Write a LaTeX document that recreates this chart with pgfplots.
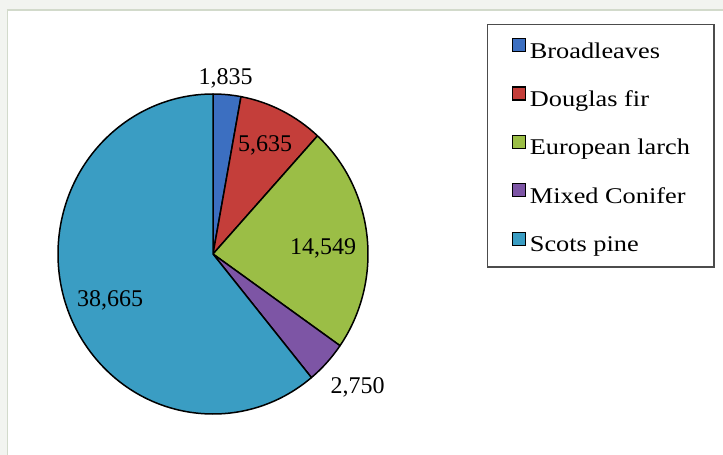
\documentclass[border=0pt]{standalone}
\usepackage{pgfplots}
\pgfplotsset{compat=1.18}
\usepackage{pgfplotstable}
\usepackage{fontspec}
\setmainfont{Liberation Serif}
\newfontfamily\legfont[FakeStretch=1.17]{Liberation Serif}
\definecolor{cBroad}{HTML}{3C6FC1}
\definecolor{cDoug}{HTML}{C43E3A}
\definecolor{cLarch}{HTML}{9BBE46}
\definecolor{cMixed}{HTML}{7D55A5}
\definecolor{cScots}{HTML}{3A9DC3}
\definecolor{bgout}{HTML}{F2F4F0}
\definecolor{bgline}{HTML}{D2DACB}
\pgfplotstableread[col sep=comma]{
species,value
Broadleaves,1835
Douglas fir,5635
European larch,14549
Mixed Conifer,2750
Scots pine,38665
}\piedata
\newcommand\pieslice[3]{%
  \filldraw[fill=#1, draw=black, line width=1.5pt, line join=round]
    (axis cs:213,254) -- ++(#2:155pt and 160pt)
    arc[start angle=#2, end angle=#3, x radius=155pt, y radius=160pt] -- cycle;}
\begin{document}
\begin{tikzpicture}
\pgfplotstablegetelem{0}{value}\of\piedata \edef\vA{\pgfplotsretval}
\pgfplotstablegetelem{1}{value}\of\piedata \edef\vB{\pgfplotsretval}
\pgfplotstablegetelem{2}{value}\of\piedata \edef\vC{\pgfplotsretval}
\pgfplotstablegetelem{3}{value}\of\piedata \edef\vD{\pgfplotsretval}
\pgfplotstablegetelem{4}{value}\of\piedata \edef\vE{\pgfplotsretval}
\edef\tot{\fpeval{\vA+\vB+\vC+\vD+\vE}}
\edef\aA{90}
\edef\aB{\fpeval{round(\aA-360*\vA/\tot,4)}}
\edef\aC{\fpeval{round(\aB-360*\vB/\tot,4)}}
\edef\aD{\fpeval{round(\aC-360*\vC/\tot,4)}}
\edef\aE{\fpeval{round(\aD-360*\vD/\tot,4)}}
\edef\aF{\fpeval{round(\aE-360*\vE/\tot,4)}}
\begin{axis}[
  scale only axis, width=723pt, height=455pt,
  xmin=0, xmax=723, ymin=0, ymax=455, y dir=reverse,
  hide axis, clip=false,
  legend style={at={(axis description cs:0.6736,0.94725)}, anchor=north west,
    draw=black!70, line width=1.3pt, fill=white,
    inner xsep=24pt, inner ysep=13.3pt, row sep=26.3pt, column sep=4pt,
    nodes={inner sep=0pt, text height=17pt, text depth=2pt,
      font=\legfont\fontsize{22.5}{26}\selectfont}},
  legend cell align=left,
  legend image code/.code={\filldraw[#1] (0pt,-1pt) rectangle (13pt,12pt);},
]
\coordinate (BL) at (axis cs:0,455);
\coordinate (TR) at (axis cs:723,0);
\fill[bgout] (axis cs:0,0) rectangle (axis cs:723,455);
\fill[white] (axis cs:7.5,10) rectangle (axis cs:723,455);
\draw[bgline, line width=1.5pt] (axis cs:7.5,455) -- (axis cs:7.5,10) -- (axis cs:723,10);
\pieslice{cBroad}{\aA}{\aB}
\pieslice{cDoug}{\aB}{\aC}
\pieslice{cLarch}{\aC}{\aD}
\pieslice{cMixed}{\aD}{\aE}
\pieslice{cScots}{\aE}{\aF}
\begin{scope}[every node/.style={font=\fontsize{24}{28}\selectfont, anchor=base, inner sep=0pt}]
\node at (axis cs:225.5,84.3) {1,835};
\node at (axis cs:265,151.7) {5,635};
\node at (axis cs:323,254.3) {14,549};
\node at (axis cs:357.5,393) {2,750};
\node at (axis cs:110,306.7) {38,665};
\end{scope}
\addlegendimage{fill=cBroad, draw=black, line width=1.2pt}
\addlegendentry{Broadleaves}
\addlegendimage{fill=cDoug, draw=black, line width=1.2pt}
\addlegendentry{Douglas fir}
\addlegendimage{fill=cLarch, draw=black, line width=1.2pt}
\addlegendentry{European larch}
\addlegendimage{fill=cMixed, draw=black, line width=1.2pt}
\addlegendentry{Mixed Conifer}
\addlegendimage{fill=cScots, draw=black, line width=1.2pt}
\addlegendentry{Scots pine}
\end{axis}
\pgfresetboundingbox
\path[use as bounding box] (BL) rectangle (TR);
\end{tikzpicture}
\end{document}
